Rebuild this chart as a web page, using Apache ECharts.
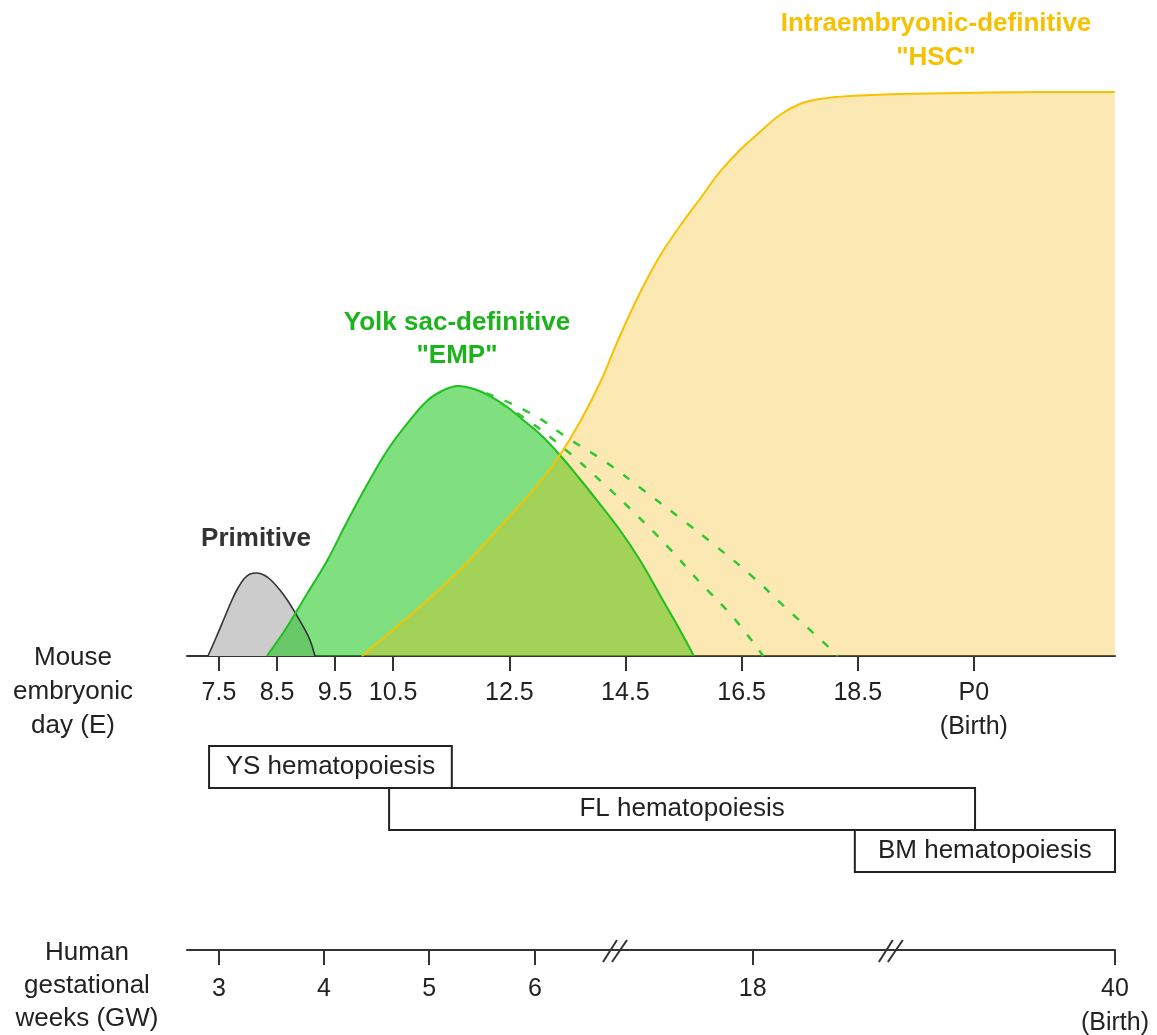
<!DOCTYPE html>
<html>
<head>
<meta charset="utf-8">
<script src="https://cdn.jsdelivr.net/npm/echarts@6/dist/echarts.min.js"></script>
<style>html,body{margin:0;padding:0;background:#fff}#c{width:1157px;height:1035px}</style>
</head>
<body>
<div id="c"></div>
<script>
// ---- DATA (x = mouse embryonic day scale, y = relative abundance 0-100) ----
const mouseTickPos = [7.5, 8.5, 9.5, 10.5, 12.5, 14.5, 16.5, 18.5, 20.5];
const mouseTickLabels = ['7.5', '8.5', '9.5', '10.5', '12.5', '14.5', '16.5', '18.5', 'P0\n(Birth)'];
const humanTickPos = [7.5, 9.31, 11.12, 12.94, 16.69, 22.93];
const humanTickLabels = ['3', '4', '5', '6', '18', '40\n(Birth)'];
const humanBreakPos = [14.32, 19.07];

const primitive = [[7.311,0],[7.448,3.0],[7.586,6.17],[7.724,9.33],[7.827,11.33],[7.930,12.83],[8.034,13.67],[8.154,13.83],[8.275,13.5],[8.395,12.67],[8.550,11.0],[8.688,9.17],[8.826,7.0],[8.964,4.67],[9.067,2.67],[9.153,0]];
const emp = [[8.326,0],[8.671,4.83],[9.015,10.33],[9.360,15.83],[9.704,22.33],[10.048,28.5],[10.393,34.17],[10.737,38.67],[11.081,42.5],[11.340,44.17],[11.615,45.0],[11.891,44.5],[12.166,43.33],[12.442,41.67],[12.717,39.5],[13.027,37.0],[13.371,33.5],[13.716,29.5],[14.060,25.33],[14.404,21.0],[14.749,16.0],[15.093,10.17],[15.438,4.33],[15.679,0]];
const hsc = [[9.962,0],[10.272,2.5],[10.616,5.33],[10.961,8.17],[11.305,11.17],[11.650,14.33],[11.994,17.83],[12.338,21.5],[12.683,25.17],[13.027,29.0],[13.371,33.5],[13.716,39.0],[14.060,45.5],[14.404,53.33],[14.749,60.5],[15.093,66.67],[15.438,71.67],[15.782,76.17],[16.126,80.67],[16.471,84.33],[16.815,87.33],[17.159,90.17],[17.504,92.0],[17.848,92.83],[18.365,93.33],[19.225,93.67],[20.259,93.83],[21.636,94.0],[22.927,94.0]];
const empDashOuter = [[12.10,43.8],[12.86,40.5],[13.51,36.3],[14.18,32.2],[14.80,27.7],[15.44,23.0],[16.07,18.2],[16.69,13.2],[17.24,8.2],[17.83,3.0],[18.16,0]];
const empDashInner = [[12.34,42.2],[12.86,39.0],[13.49,34.2],[14.09,29.0],[14.66,23.8],[15.23,18.2],[15.78,12.3],[16.35,6.5],[16.87,0]];

const boxLabels = ['YS hematopoiesis', 'FL hematopoiesis', 'BM hematopoiesis'];
const boxStart = [7.33, 10.43, 18.45];
const boxEnd = [11.51, 20.52, 22.93];

// ---- CHART ----
const FONT = "'Liberation Sans', Arial, sans-serif";
const X_MIN = 6.95, X_MAX = 22.93;
const SMOOTH = 0.38;
const chart = echarts.init(document.getElementById('c'), null, {renderer: 'canvas'});

function labelFor(pos, labels, v) {
  let best = -1, d = 1e9;
  pos.forEach((p, i) => { const dd = Math.abs(p - v); if (dd < d) { d = dd; best = i; } });
  return d < 0.01 ? labels[best] : '';
}

const boxData = boxLabels.map((l, i) => [boxStart[i], boxEnd[i], i]);
const breakData = humanBreakPos.map(p => [p, 0]);

const option = {
  animation: false,
  backgroundColor: '#fff',
  grid: [
    {left: 187, right: 42, top: 56, height: 600, outerBoundsMode: 'none'},
    {left: 187, right: 42, top: 746, height: 126, outerBoundsMode: 'none'},
    {left: 187, right: 42, top: 900, height: 50, outerBoundsMode: 'none'}
  ],
  xAxis: [
    {
      gridIndex: 0, type: 'value', min: X_MIN, max: X_MAX,
      splitLine: {show: false},
      axisLine: {show: true, lineStyle: {color: '#333', width: 2}},
      axisTick: {show: true, customValues: mouseTickPos, length: 15, lineStyle: {color: '#333', width: 2}},
      axisLabel: {customValues: mouseTickPos, formatter: v => labelFor(mouseTickPos, mouseTickLabels, v),
        fontSize: 25, color: '#222', fontFamily: FONT, margin: 20, lineHeight: 34}
    },
    {gridIndex: 1, type: 'value', min: X_MIN, max: X_MAX, show: false},
    {
      gridIndex: 2, type: 'value', min: X_MIN, max: X_MAX,
      splitLine: {show: false},
      axisLine: {show: true, lineStyle: {color: '#333', width: 2}},
      axisTick: {show: true, customValues: humanTickPos, length: 15, lineStyle: {color: '#333', width: 2}},
      axisLabel: {customValues: humanTickPos, formatter: v => labelFor(humanTickPos, humanTickLabels, v),
        fontSize: 25, color: '#222', fontFamily: FONT, margin: 22, lineHeight: 34}
    }
  ],
  yAxis: [
    {gridIndex: 0, type: 'value', min: 0, max: 100, show: false},
    {gridIndex: 1, type: 'value', min: 0, max: 3, inverse: true, show: false},
    {gridIndex: 2, type: 'value', min: 0, max: 1, show: false}
  ],
  series: [
    {
      name: 'Primitive', type: 'line', data: primitive, smooth: SMOOTH, showSymbol: false,
      lineStyle: {color: '#333', width: 1.6},
      areaStyle: {color: '#cccccc', opacity: 1}
    },
    {
      name: 'EMP', type: 'line', data: emp, smooth: SMOOTH, showSymbol: false,
      lineStyle: {color: '#1fbf1f', width: 2},
      areaStyle: {color: '#18c718', opacity: 0.55}
    },
    {
      name: 'HSC', type: 'line', data: hsc, smooth: SMOOTH, showSymbol: false,
      lineStyle: {color: '#f7c200', width: 2},
      areaStyle: {color: '#f5b200', opacity: 0.3}
    },
    {
      name: 'EMP outer', type: 'line', data: empDashOuter, smooth: 0.5, showSymbol: false,
      lineStyle: {color: '#33c833', width: 2.5, type: [8, 12]}
    },
    {
      name: 'EMP inner', type: 'line', data: empDashInner, smooth: 0.5, showSymbol: false,
      lineStyle: {color: '#33c833', width: 2.5, type: [8, 12]}
    },
    {
      name: 'Boxes', type: 'custom', xAxisIndex: 1, yAxisIndex: 1, clip: false,
      data: boxData,
      renderItem: function (params, api) {
        const s = api.value(0), e = api.value(1), r = api.value(2);
        const p0 = api.coord([s, r]);
        const p1 = api.coord([e, r + 1]);
        return {
          type: 'group',
          children: [
            {type: 'rect', shape: {x: p0[0], y: p0[1], width: p1[0] - p0[0], height: p1[1] - p0[1]},
              style: {fill: '#fff', stroke: '#222', lineWidth: 2}},
            {type: 'text', style: {text: boxLabels[params.dataIndex], x: (p0[0] + p1[0]) / 2, y: (p0[1] + p1[1]) / 2,
              align: 'center', verticalAlign: 'middle', textAlign: 'center', textVerticalAlign: 'middle',
              font: '26px ' + FONT, fill: '#222'}}
          ]
        };
      }
    },
    {
      name: 'Breaks', type: 'custom', xAxisIndex: 2, yAxisIndex: 2, clip: false,
      data: breakData,
      renderItem: function (params, api) {
        const p = api.coord([api.value(0), api.value(1)]);
        return {
          type: 'group',
          children: [
            {type: 'line', shape: {x1: p[0] - 12, y1: p[1] + 12, x2: p[0] + 2, y2: p[1] - 10}, style: {stroke: '#333', lineWidth: 2}},
            {type: 'line', shape: {x1: p[0] - 3, y1: p[1] + 12, x2: p[0] + 12, y2: p[1] - 10}, style: {stroke: '#333', lineWidth: 2}}
          ]
        };
      }
    }
  ],
  graphic: [
    {type: 'text', x: 256, y: 539, style: {text: 'Primitive', fill: '#333', font: 'bold 26px ' + FONT,
      align: 'center', verticalAlign: 'middle', textAlign: 'center', textVerticalAlign: 'middle'}},
    {type: 'text', x: 457, y: 339, style: {text: 'Yolk sac-definitive\n"EMP"', fill: '#1db31d', font: 'bold 26px ' + FONT,
      lineHeight: 33, align: 'center', verticalAlign: 'middle', textAlign: 'center', textVerticalAlign: 'middle'}},
    {type: 'text', x: 936, y: 41, style: {text: 'Intraembryonic-definitive\n"HSC"', fill: '#f6c100', font: 'bold 26px ' + FONT,
      lineHeight: 34, align: 'center', verticalAlign: 'middle', textAlign: 'center', textVerticalAlign: 'middle'}},
    {type: 'text', x: 73, y: 692, style: {text: 'Mouse\nembryonic\nday (E)', fill: '#222', font: '26px ' + FONT,
      lineHeight: 34, align: 'center', verticalAlign: 'middle', textAlign: 'center', textVerticalAlign: 'middle'}},
    {type: 'text', x: 87, y: 986, style: {text: 'Human\ngestational\nweeks (GW)', fill: '#222', font: '26px ' + FONT,
      lineHeight: 33, align: 'center', verticalAlign: 'middle', textAlign: 'center', textVerticalAlign: 'middle'}}
  ]
};
chart.setOption(option);
</script>
</body>
</html>
